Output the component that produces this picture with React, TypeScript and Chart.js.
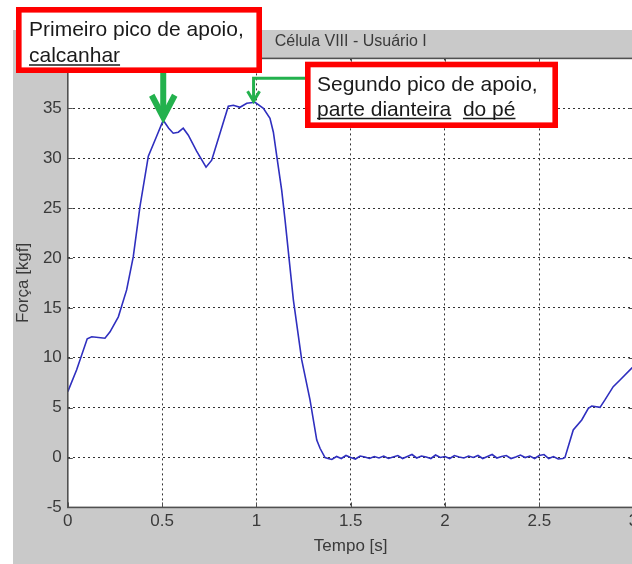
import React, { useEffect, useRef } from "react";
import { Chart, registerables } from "chart.js";

Chart.register(...registerables);

// ---- data ----
const timeS = [
  0.0, 0.047, 0.103, 0.127, 0.197, 0.224, 0.268, 0.312, 0.347, 0.383, 0.427, 0.471, 0.506,
  0.535, 0.559, 0.586, 0.612, 0.639, 0.683, 0.733, 0.763, 0.807, 0.851, 0.878, 0.913, 0.949, 0.993,
  1.037, 1.072, 1.09, 1.108, 1.134, 1.152, 1.196, 1.24, 1.284, 1.32, 1.338, 1.364, 1.38,
  1.4, 1.425, 1.45, 1.475, 1.5, 1.525, 1.55, 1.575, 1.6, 1.625, 1.65, 1.675, 1.7, 1.725, 1.75,
  1.775, 1.8, 1.825, 1.85, 1.875, 1.9, 1.925, 1.95, 1.975, 2.0, 2.025, 2.05, 2.075, 2.1, 2.125,
  2.15, 2.175, 2.2, 2.225, 2.25, 2.275, 2.3, 2.325, 2.35, 2.375, 2.4, 2.425, 2.45, 2.475, 2.5,
  2.525, 2.55, 2.575, 2.6, 2.625, 2.636, 2.68, 2.725, 2.76, 2.778, 2.822, 2.848, 2.892, 2.928,
  2.99, 3.0,
];
const forceKgf = [
  6.6, 8.8, 11.9, 12.1, 11.95, 12.6, 14.1, 16.8, 20.1, 25.2, 30.2, 32.2, 33.8,
  33.0, 32.5, 32.6, 33.0, 32.3, 30.7, 29.1, 29.8, 32.5, 35.2, 35.3, 35.1, 35.5, 35.6,
  35.0, 34.0, 32.6, 30.2, 26.8, 23.8, 15.8, 9.8, 5.8, 1.75, 0.9, 0.0, -0.1,
  -0.2, 0.1, -0.1, 0.2, 0.0, -0.15, 0.15, 0.05, -0.1, 0.1, -0.05, 0.15, -0.1, 0.05, 0.2,
  -0.1, 0.1, 0.3, -0.05, 0.15, 0.05, -0.1, 0.25, 0.0, 0.1, -0.1, 0.2, 0.05, -0.05, 0.15,
  0.0, 0.2, -0.1, 0.1, 0.3, -0.05, 0.1, 0.2, -0.1, 0.05, 0.25, 0.0, 0.15, -0.1, 0.2,
  0.3, -0.1, 0.1, -0.15, -0.1, 0.0, 2.76, 3.76, 4.93, 5.16, 5.03, 5.77, 7.1, 7.77,
  8.95, 9.1,
];
const xTicks = [0, 0.5, 1, 1.5, 2, 2.5, 3];
const yTicks = [-5, 0, 5, 10, 15, 20, 25, 30, 35, 40];
const chartTitle = "Célula VIII - Usuário I";
const xTitle = "Tempo [s]";
const yTitle = "Força [kgf]";
const note1Lines = ["Primeiro pico de apoio,", "calcanhar"];
const note2Line1 = "Segundo pico de apoio,";
const note2Line2Parts = ["parte dianteira", "do pé"];
const peak1 = [0.506, 33.8];
const peak2 = [0.985, 35.6];

const FONT = "'Liberation Sans', Arial, sans-serif";
const GRAY_BG = "#c9c9c9";
const TEXT = "#3a3a3a";
const GREEN = "#23b14d";
const RED = "#ff0000";

const bgPlugin = {
  id: "bgPlugin",
  beforeDraw(chart: any) {
    const { ctx, width, height, chartArea } = chart;
    ctx.save();
    ctx.fillStyle = "#ffffff";
    ctx.fillRect(0, 0, width, height);
    ctx.fillStyle = GRAY_BG;
    ctx.fillRect(13, 30, width - 13, height - 30);
    ctx.fillStyle = "#ffffff";
    ctx.fillRect(chartArea.left, chartArea.top, chartArea.right - chartArea.left, chartArea.bottom - chartArea.top);
    ctx.restore();
  },
};

const framePlugin = {
  id: "framePlugin",
  afterDraw(chart: any) {
    const { ctx, chartArea, scales } = chart;
    const { left, right, top, bottom } = chartArea;
    ctx.save();
    ctx.strokeStyle = "#505050";
    ctx.lineWidth = 1;
    // inward ticks
    ctx.beginPath();
    xTicks.forEach((v) => {
      const px = Math.round(scales.x.getPixelForValue(v)) + 0.5;
      ctx.moveTo(px, bottom);
      ctx.lineTo(px, bottom - 5);
      ctx.moveTo(px, top);
      ctx.lineTo(px, top + 5);
    });
    yTicks.forEach((v) => {
      const py = Math.round(scales.y.getPixelForValue(v)) + 0.5;
      ctx.moveTo(left, py);
      ctx.lineTo(left + 5, py);
      ctx.moveTo(right, py);
      ctx.lineTo(right - 5, py);
    });
    ctx.stroke();
    // frame
    ctx.lineWidth = 1.6;
    ctx.strokeRect(left, top, right - left, bottom - top);

    // ---- annotations ----
    const p1x = scales.x.getPixelForValue(peak1[0]);
    const p1y = scales.y.getPixelForValue(peak1[1]);
    const p2x = scales.x.getPixelForValue(peak2[0]);
    const p2y = scales.y.getPixelForValue(peak2[1]);

    ctx.strokeStyle = GREEN;
    ctx.lineCap = "butt";
    ctx.lineJoin = "miter";
    // arrow 1 (thick)
    ctx.lineWidth = 6;
    ctx.beginPath();
    ctx.moveTo(p1x, 72);
    ctx.lineTo(p1x, p1y - 4);
    ctx.stroke();
    ctx.beginPath();
    ctx.moveTo(p1x - 11.5, p1y - 25);
    ctx.lineTo(p1x, p1y - 3);
    ctx.lineTo(p1x + 11.5, p1y - 25);
    ctx.stroke();
    // arrow 2 (thin)
    ctx.lineWidth = 3;
    ctx.beginPath();
    ctx.moveTo(306, 78.3);
    ctx.lineTo(p2x, 78.3);
    ctx.lineTo(p2x, p2y - 2);
    ctx.stroke();
    ctx.beginPath();
    ctx.moveTo(p2x - 6, p2y - 11);
    ctx.lineTo(p2x, p2y - 1);
    ctx.lineTo(p2x + 6, p2y - 11);
    ctx.stroke();

    // boxes
    const drawBox = (x0: number, y0: number, x1: number, y1: number) => {
      const lw = 5.6;
      ctx.fillStyle = "#ffffff";
      ctx.fillRect(x0, y0, x1 - x0, y1 - y0);
      ctx.strokeStyle = RED;
      ctx.lineWidth = lw;
      ctx.strokeRect(x0 + lw / 2, y0 + lw / 2, x1 - x0 - lw, y1 - y0 - lw);
    };
    drawBox(16, 7, 262, 73);
    drawBox(305, 61.7, 558, 128);

    ctx.fillStyle = "#1a1a1a";
    ctx.font = `21px ${FONT}`;
    ctx.textBaseline = "alphabetic";
    ctx.textAlign = "left";
    const underline = (text: string, x: number, y: number) => {
      const w = ctx.measureText(text).width;
      ctx.strokeStyle = "#1a1a1a";
      ctx.lineWidth = 1.5;
      ctx.beginPath();
      ctx.moveTo(x, y + 3);
      ctx.lineTo(x + w, y + 3);
      ctx.stroke();
    };
    ctx.fillText(note1Lines[0], 29, 36);
    ctx.fillText(note1Lines[1], 29, 62);
    underline(note1Lines[1], 29, 62);
    ctx.fillText(note2Line1, 317, 90.5);
    ctx.fillText(note2Line2Parts[0], 317, 115.5);
    underline(note2Line2Parts[0], 317, 115.5);
    const gapX = 317 + ctx.measureText(note2Line2Parts[0] + "  ").width;
    ctx.fillText(note2Line2Parts[1], gapX, 115.5);
    underline(note2Line2Parts[1], gapX, 115.5);
    ctx.restore();
  },
};

export default function App() {
  const ref = useRef<HTMLCanvasElement | null>(null);
  useEffect(() => {
    if (!ref.current) return;
    const chart = new Chart(ref.current, {
      type: "line",
      data: {
        datasets: [
          {
            data: timeS.map((t, i) => ({ x: t, y: forceKgf[i] })),
            borderColor: "#2f2fbf",
            borderWidth: 1.6,
            pointRadius: 0,
            tension: 0,
            fill: false,
          },
        ],
      },
      options: {
        animation: false,
        responsive: false,
        events: [],
        layout: { padding: { left: 0, right: 26.4, top: 0, bottom: 0 } },
        plugins: {
          legend: { display: false },
          tooltip: { enabled: false },
          title: {
            display: true,
            text: chartTitle,
            fullSize: false,
            color: TEXT,
            font: { family: FONT, size: 16, weight: "normal" },
            padding: { top: 32.1, bottom: 7.1 },
          },
        },
        scales: {
          x: {
            type: "linear",
            min: 0,
            max: 3,
            afterBuildTicks: (s: any) => {
              s.ticks = xTicks.map((v) => ({ value: v }));
            },
            afterFit: (s: any) => {
              s.height = 564 - 507.4;
              s.paddingLeft = 0;
              s.paddingRight = 0;
            },
            ticks: {
              color: TEXT,
              font: { family: FONT, size: 17 },
              padding: 4,
              maxRotation: 0,
              autoSkip: false,
              callback: (v: any) => String(v),
            },
            grid: { color: "#333333", lineWidth: 1, drawTicks: false },
            border: { display: false, dash: [2, 3] },
            title: {
              display: true,
              text: xTitle,
              color: TEXT,
              font: { family: FONT, size: 17 },
              padding: { top: 0, bottom: 7.8 },
            },
          },
          y: {
            type: "linear",
            min: -5,
            max: 40,
            afterBuildTicks: (s: any) => {
              s.ticks = yTicks.map((v) => ({ value: v }));
            },
            afterFit: (s: any) => {
              s.width = 67.8;
              s.paddingTop = 0;
              s.paddingBottom = 0;
            },
            ticks: {
              color: TEXT,
              font: { family: FONT, size: 17 },
              padding: 6,
              autoSkip: false,
              callback: (v: any) => (v === 40 ? "" : String(v)),
            },
            grid: { color: "#333333", lineWidth: 1, drawTicks: false },
            border: { display: false, dash: [2, 3] },
            title: {
              display: true,
              text: yTitle,
              color: TEXT,
              font: { family: FONT, size: 17 },
              padding: { top: 12.8, bottom: 0 },
            },
          },
        },
      },
      plugins: [bgPlugin, framePlugin],
    } as any);
    return () => chart.destroy();
  }, []);

  return (
    <div
      style={{
        position: "fixed",
        left: 0,
        top: 0,
        width: 632,
        height: 564,
        overflow: "hidden",
        background: "#ffffff",
      }}
    >
      <canvas ref={ref} width={660} height={564} style={{ display: "block" }} />
    </div>
  );
}
